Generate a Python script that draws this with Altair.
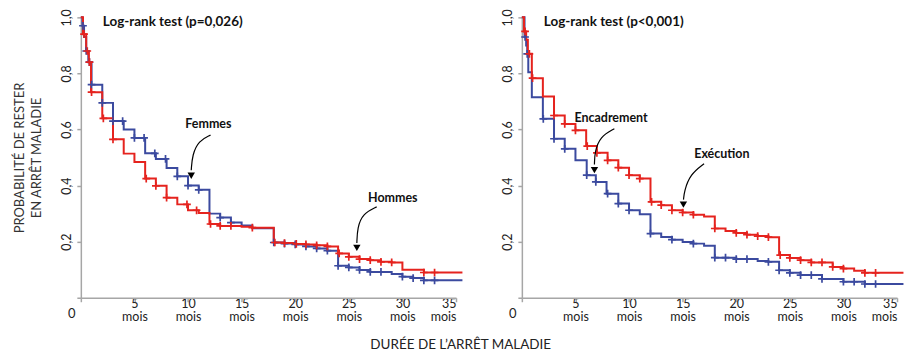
import altair as alt
import pandas as pd

# ---------------- data ----------------
# Left panel: sex
fem_t = [0, 0.15, 0.3, 0.5, 0.7, 1.0, 2.0, 3.0, 4.0, 5.0, 6.0, 7.0, 8.0, 9.0, 10.0, 11.0, 12.0, 13.0, 14.0, 15.0, 16.0,
         18.0, 19.0, 20.0, 21.0, 22.0, 23.0, 24.0, 25.0, 26.0, 27.0, 29.0, 30.0, 31.0, 32.0]
fem_s = [1.0, 0.97, 0.93, 0.88, 0.84, 0.76, 0.695, 0.63, 0.60, 0.57, 0.515, 0.495, 0.463, 0.433, 0.40, 0.385, 0.30,
         0.286, 0.268, 0.258, 0.248, 0.197, 0.193, 0.19, 0.183, 0.176, 0.168, 0.114, 0.108, 0.099, 0.092, 0.085,
         0.075, 0.07, 0.062]
fem_c = [0.2, 0.5, 0.8, 1.0, 2.0, 3.0, 3.9, 5.0, 5.9, 6.9, 7.9, 9.0, 10.0, 11.0, 13.0, 14.0, 18.0, 19.0, 20.0, 21.0,
         22.0, 23.0, 24.0, 25.0, 26.0, 27.0, 28.0, 30.0, 31.0, 32.0, 33.0]

hom_t = [0, 0.2, 0.5, 0.75, 0.95, 2.0, 3.0, 4.0, 5.0, 6.0, 7.0, 8.0, 9.0, 10.0, 11.0, 12.0, 13.0, 15.0, 16.0, 18.0,
         19.0, 20.0, 21.0, 22.0, 23.0, 24.0, 25.0, 26.0, 27.0, 28.0, 29.0, 30.0, 32.0]
hom_s = [1.0, 0.94, 0.88, 0.84, 0.733, 0.64, 0.565, 0.514, 0.484, 0.425, 0.399, 0.357, 0.333, 0.312, 0.302, 0.263,
         0.256, 0.253, 0.25, 0.197, 0.195, 0.192, 0.19, 0.187, 0.183, 0.158, 0.146, 0.138, 0.134, 0.128, 0.126,
         0.10, 0.09]
hom_c = [0.3, 0.6, 0.8, 1.0, 2.1, 3.0, 6.1, 7.0, 8.0, 9.9, 10.8, 12.1, 13.0, 14.0, 16.0, 18.1, 19.0, 20.1, 21.0,
         22.0, 23.0, 24.1, 25.0, 26.0, 27.0, 28.0, 29.0, 32.0, 33.0]

# Right panel: job category
enc_t = [0, 0.25, 0.4, 0.5, 0.6, 0.93, 1.96, 3.0, 4.0, 5.0, 6.05, 6.9, 7.9, 9.0, 10.0, 11.0, 12.0, 13.0, 14.0, 15.0,
         16.0, 17.0, 18.0, 20.0, 22.0, 23.0, 24.0, 25.0, 26.0, 28.0, 30.0, 32.0]
enc_s = [1.0, 0.93, 0.90, 0.87, 0.804, 0.715, 0.638, 0.567, 0.531, 0.49, 0.437, 0.413, 0.371, 0.336, 0.312, 0.298,
         0.229, 0.217, 0.207, 0.199, 0.193, 0.185, 0.143, 0.138, 0.131, 0.128, 0.098, 0.089, 0.081, 0.067, 0.057,
         0.049]
enc_c = [0.3, 0.5, 2.0, 3.0, 4.0, 6.05, 6.9, 8.0, 9.0, 10.0, 12.0, 14.0, 16.0, 18.0, 19.0, 20.0, 21.0, 23.0, 24.0,
         25.0, 26.0, 27.0, 28.0, 30.0, 31.0, 32.0, 33.0]

exe_t = [0, 0.2, 0.4, 0.56, 0.93, 1.96, 3.0, 4.0, 5.0, 6.0, 7.0, 8.0, 9.0, 10.0, 11.0, 12.0, 13.0, 14.0, 15.0, 16.0,
         17.0, 18.0, 19.0, 20.0, 21.0, 22.0, 23.0, 24.0, 25.0, 26.0, 27.0, 29.0, 30.0, 31.0, 32.0]
exe_s = [1.0, 0.95, 0.92, 0.87, 0.783, 0.718, 0.65, 0.62, 0.597, 0.541, 0.517, 0.49, 0.464, 0.437, 0.425, 0.342,
         0.33, 0.312, 0.304, 0.296, 0.29, 0.247, 0.238, 0.231, 0.225, 0.22, 0.216, 0.152, 0.142, 0.134, 0.126, 0.11,
         0.104, 0.096, 0.089]
exe_c = [0.3, 0.7, 1.0, 3.0, 4.0, 5.0, 6.1, 7.0, 8.0, 9.0, 10.0, 11.0, 12.1, 13.0, 14.0, 15.0, 16.0, 18.0, 20.0,
         21.0, 22.0, 23.0, 24.1, 25.0, 26.0, 27.0, 28.0, 29.0, 30.0, 32.0, 33.0]

END = 35.6
x_ticks = [0, 5, 10, 15, 20, 25, 30, 35]
y_ticks = [0, 0.2, 0.4, 0.6, 0.8, 1.0]

left_tests = ["Log-rank test (p=0,026)"]
right_tests = ["Log-rank test (p<0,001)"]

# annotation labels: text, month, prob
left_labels = [("Femmes", 11.9, 0.619), ("Hommes", 29.1, 0.356)]
right_labels = [("Encadrement", 8.32, 0.64), ("Exécution", 18.66, 0.512)]

# arrows (curve points) and heads
left_arrows = {
    "Femmes": [(12.1, 0.58), (11.0, 0.56), (10.4, 0.51), (10.3, 0.455)],
    "Hommes": [(27.6, 0.324), (26.3, 0.30), (25.8, 0.25), (25.75, 0.195)],
}
left_heads = [(10.3, 0.435), (25.75, 0.178)]
right_arrows = {
    "Encadrement": [(8.63, 0.603), (7.3, 0.575), (6.8, 0.52), (6.77, 0.475)],
    "Exécution": [(17.0, 0.478), (15.7, 0.44), (15.15, 0.38), (15.08, 0.35)],
}
right_heads = [(6.77, 0.455), (15.07, 0.332)]

BLUE = "#3b4a9f"
RED = "#e5231e"
AXIS = "#a6a6a6"
FONT = "Lato"
W, H = 376, 281


def step_df(times, vals, col):
    rows = [{"month": t, "prob": v, "col": col} for t, v in zip(times, vals)]
    rows.append({"month": END, "prob": vals[-1], "col": col})
    return rows


def value_at(times, vals, t):
    v = vals[0]
    for tt, vv in zip(times, vals):
        if tt <= t + 1e-9:
            v = vv
    return v


def censor_df(times, vals, cens, col):
    return [{"month": c, "prob": value_at(times, vals, c), "col": col} for c in cens]


color = alt.Color("col:N", scale=alt.Scale(domain=["b", "r"], range=[BLUE, RED]), legend=None)


def panel(blue, red, tests, labels, arrows, heads, y_title):
    curves = pd.DataFrame(step_df(blue[0], blue[1], "b") + step_df(red[0], red[1], "r"))
    cens = pd.DataFrame(censor_df(blue[0], blue[1], blue[2], "b") + censor_df(red[0], red[1], red[2], "r"))

    yaxis_kwargs = dict(
        values=y_ticks,
        labelExpr="datum.value == 0 ? '' : replace(format(datum.value, '.1f'), '.', ',')",
        labelAngle=-90, labelAlign="center", labelBaseline="bottom", labelPadding=3,
        grid=False, tickSize=4, titleFontWeight="normal",
    )
    if y_title:
        yaxis = alt.Axis(title=["PROBABILITÉ DE RESTER", "EN ARRÊT MALADIE"], titlePadding=17, **yaxis_kwargs)
    else:
        yaxis = alt.Axis(title=None, **yaxis_kwargs)

    x = alt.X("month:Q", scale=alt.Scale(domain=[0, 35], nice=False, zero=True),
              axis=alt.Axis(values=x_ticks, title=None, grid=False, tickSize=4, labelPadding=-4,
                            labelExpr="datum.value == 0 ? '' : [datum.label, 'mois']"))
    y = alt.Y("prob:Q", scale=alt.Scale(domain=[0, 1], nice=False), axis=yaxis)

    lines = alt.Chart(curves).mark_line(interpolate="step-after", strokeWidth=2, clip=False).encode(
        x=x, y=y, color=color)
    plus = alt.Chart(cens).mark_point(shape="M-1,0H1M0,-1V1", size=60, strokeWidth=1.7, filled=False,
                                      opacity=1).encode(x="month:Q", y="prob:Q", color=color)

    arrow_rows = []
    for name, pts in arrows.items():
        for k, (m, p) in enumerate(pts):
            arrow_rows.append({"id": name, "k": k, "month": m, "prob": p})
    arr = alt.Chart(pd.DataFrame(arrow_rows)).mark_line(interpolate="basis", color="black", strokeWidth=1.2).encode(
        x="month:Q", y="prob:Q", detail="id:N", order="k:Q")
    head = alt.Chart(pd.DataFrame([{"month": m, "prob": p} for m, p in heads])).mark_point(
        shape="triangle-down", filled=True, color="black", size=55, opacity=1).encode(x="month:Q", y="prob:Q")

    lab = alt.Chart(pd.DataFrame([{"t": t, "month": m, "prob": p} for t, m, p in labels])).mark_text(
        font=FONT, fontWeight="bold", fontSize=12.5, color="#111", align="center", baseline="middle").encode(
        x="month:Q", y="prob:Q", text="t:N")
    test = alt.Chart(pd.DataFrame([{"t": tests[0], "month": 2.05, "prob": 0.982}])).mark_text(
        font=FONT, fontWeight="bold", fontSize=13.5, color="#111", align="left", baseline="middle").encode(
        x="month:Q", y="prob:Q", text="t:N")
    zero = alt.Chart(pd.DataFrame([{"t": "0", "month": 0, "prob": 0}])).mark_text(
        font=FONT, fontSize=13, color="#222", align="center", baseline="middle", dx=-9, dy=16).encode(
        x="month:Q", y="prob:Q", text="t:N")

    return alt.layer(lines, plus, arr, head, lab, test, zero).properties(width=W, height=H)


left = panel((fem_t, fem_s, fem_c), (hom_t, hom_s, hom_c), left_tests, left_labels, left_arrows, left_heads, True)
right = panel((enc_t, enc_s, enc_c), (exe_t, exe_s, exe_c), right_tests, right_labels, right_arrows, right_heads,
              False)

chart = alt.hconcat(left, right, spacing=66, bounds="flush").properties(
    padding={"left": 6, "top": 0, "right": 0, "bottom": 0},
    title=alt.TitleParams(text="DURÉE DE L’ARRÊT MALADIE", orient="bottom", anchor="middle", font=FONT,
                          fontSize=13.5, fontWeight="normal", color="#222", offset=15),
).configure_view(stroke=None).configure_axis(
    domainColor=AXIS, domainWidth=1.5, tickColor=AXIS, tickWidth=1.5,
    labelFont=FONT, labelFontSize=12.5, labelColor="#222", labelLineHeight=13,
    titleFont=FONT, titleFontSize=13, titleColor="#333", titleLineHeight=17,
)

chart.save("out.html", embed_options={"renderer": "svg", "actions": False})
